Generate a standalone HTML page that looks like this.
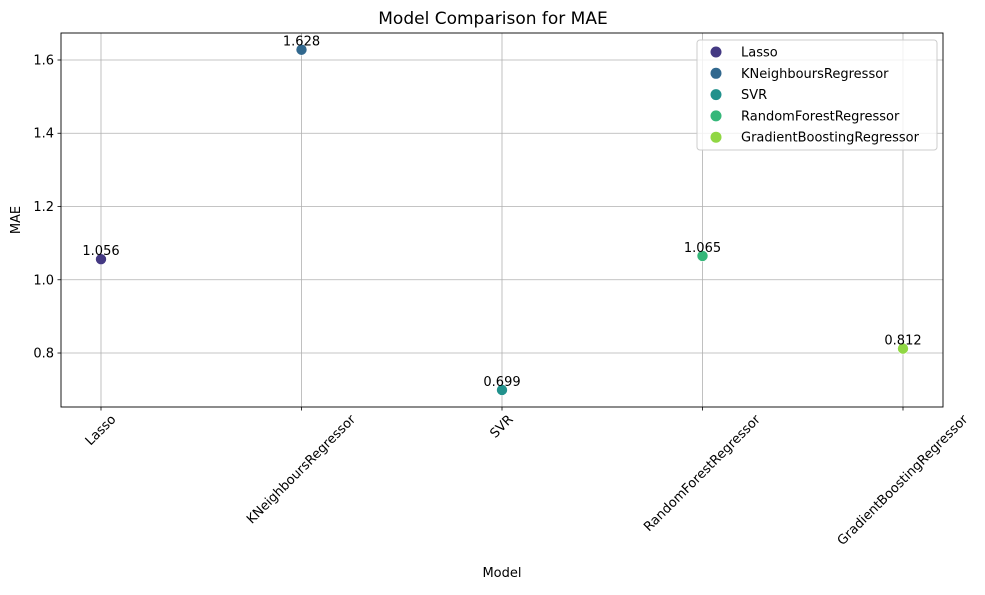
<!DOCTYPE html>
<html><head><meta charset="utf-8"><style>
body{margin:0;background:#fff;}
svg text{font-family:"DejaVu Sans","Liberation Sans",sans-serif;fill:#000;}
</style></head><body>
<svg id="chart" width="985" height="590" viewBox="0 0 985 590">
<rect width="985" height="590" fill="#fff"/>
<text x="493" y="24" font-size="17" text-anchor="middle">Model Comparison for MAE</text>
<g id="grid"></g>
<g id="axes"></g>
<g id="marks"></g>
<text x="502" y="577" font-size="13" text-anchor="middle">Model</text>
<text x="20" y="220" font-size="13" text-anchor="middle" transform="rotate(-90 20 220)">MAE</text>
<g id="legend"></g>
</svg>
<script>
const categories=["Lasso","KNeighboursRegressor","SVR","RandomForestRegressor","GradientBoostingRegressor"];
const maeValues=[1.056,1.628,0.699,1.065,0.812];
const yTicks=[0.8,1.0,1.2,1.4,1.6];
const colors=["#443983","#31688e","#21918c","#35b779","#90d743"];
const L=61,R=943,T=33,B=407,yMin=0.6526,yMax=1.6737;
const NS="http://www.w3.org/2000/svg";
function xs(i){return 101+i*(903-101)/(categories.length-1);}
function ys(v){return B-(v-yMin)/(yMax-yMin)*(B-T);}
function mk(tag,attrs,parent,txt){const e=document.createElementNS(NS,tag);for(const k in attrs)e.setAttribute(k,attrs[k]);if(txt!==undefined)e.textContent=txt;parent.appendChild(e);return e;}
const grid=document.getElementById('grid'),axes=document.getElementById('axes'),marks=document.getElementById('marks'),leg=document.getElementById('legend');
yTicks.forEach(t=>{const y=ys(t);
 const g=mk('line',{x1:L,x2:R,y1:y,y2:y,stroke:'#b0b0b0','stroke-width':0.8},grid);
 
 
 mk('line',{x1:L-3.5,x2:L,y1:y,y2:y,stroke:'#000','stroke-width':0.8},axes);
 const tl=mk('text',{x:L-7,y:y+4.5,'font-size':13,'text-anchor':'end'},axes,t.toFixed(1));
 
 
});
categories.forEach((c,i)=>{const x=xs(i);
 const g=mk('line',{x1:x,x2:x,y1:T,y2:B,stroke:'#b0b0b0','stroke-width':0.8},grid);
 
 
 mk('line',{x1:x,x2:x,y1:B,y2:B+3.5,stroke:'#000','stroke-width':0.8},axes);
 const t=mk('text',{'font-size':13,'text-anchor':'middle','dominant-baseline':'central'},axes,c);
 
 
 const len=t.getComputedTextLength();
 const h=(len+13)*0.7071;
 const cy=B+6+h/2;
 t.setAttribute('x',x);t.setAttribute('y',cy);
 t.setAttribute('transform','rotate(-45 '+x+' '+cy+')');
});
mk('rect',{x:L,y:T,width:R-L,height:B-T,fill:'none',stroke:'#000','stroke-width':0.9},axes);
maeValues.forEach((v,i)=>{const x=xs(i),y=ys(v);
 const p=mk('circle',{cx:x,cy:y,r:5.5,fill:colors[i],stroke:'#fff','stroke-width':0.6},marks);
 
 
 const l=mk('text',{x:x,y:y-4,'font-size':13,'text-anchor':'middle'},marks,v.toFixed(3));
 
 
});
const lb=mk('rect',{x:697,y:40,width:240,height:110,rx:3,fill:'#fff','fill-opacity':0.8,stroke:'#ccc','stroke-width':1},leg);


categories.forEach((c,i)=>{const y=52+i*21.3;
 const g=mk('g',{},leg);
 
 
 mk('circle',{cx:716,cy:y,r:5.5,fill:colors[i]},g);
 mk('text',{x:741,y:y+4.5,'font-size':13},g,c);
});
</script>
</body></html>
